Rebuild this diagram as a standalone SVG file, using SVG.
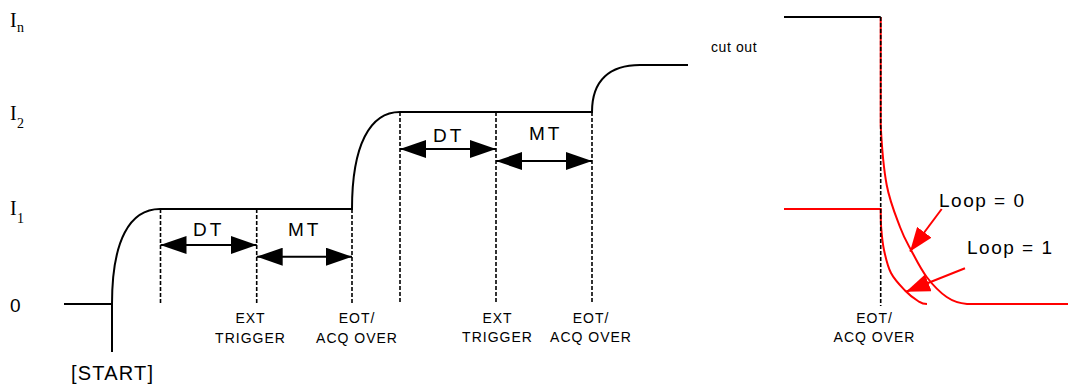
<svg xmlns="http://www.w3.org/2000/svg" width="1068" height="390" viewBox="0 0 1068 390">
<defs>
<style>
.ln{fill:none;stroke:#000;stroke-width:2}
.dash{fill:none;stroke:#000;stroke-width:1.6;stroke-dasharray:4 2}
.red{fill:none;stroke:#f00;stroke-width:2}
.arr{fill:none;stroke:#000;stroke-width:2;marker-start:url(#ah);marker-end:url(#ah)}
.rarr{fill:none;stroke:#f00;stroke-width:2;marker-end:url(#rh)}
text{font-family:"Liberation Sans",Arial,sans-serif;fill:#000}
.sm{font-size:14px;letter-spacing:1px;text-anchor:middle}
.md{font-size:19px;letter-spacing:3px}
.lp{font-size:19px;letter-spacing:1.5px}
.ser{font-family:"Liberation Serif","Times New Roman",serif;font-size:20px}
.sub{font-family:"Liberation Serif","Times New Roman",serif;font-size:14px}
</style>
<marker id="ah" viewBox="0 0 26 18" refX="26" refY="9" markerUnits="userSpaceOnUse" markerWidth="26" markerHeight="18" orient="auto-start-reverse"><path d="M0,0L26,9L0,18z" fill="#000"/></marker>
<marker id="rh" viewBox="0 0 24 18" refX="24" refY="9" markerUnits="userSpaceOnUse" markerWidth="24" markerHeight="18" orient="auto"><path d="M0,0L24,9L0,18z" fill="#f00"/></marker>
</defs>
<rect width="1068" height="390" fill="#fff"/>

<g id="axis-labels">
<text class="ser" x="10" y="27">I</text><text class="sub" x="17" y="32">n</text>
<text class="ser" x="10" y="120">I</text><text class="sub" x="17" y="128">2</text>
<text class="ser" x="10" y="215">I</text><text class="sub" x="17" y="222.5">1</text>
<text x="10" y="312" font-size="19">0</text>
<text x="71" y="380" font-size="20" letter-spacing="1.2">[START]</text>
</g>

<g id="waveform">
<path class="ln" d="M64,304 L112,304 M112,352 L112,304 C112,240 130,209 160,209 L352,209 C352,145 370,112 400,112 L592,112 C592,80 610,65 640,65 L688,65"/>
<text x="711" y="51.5" font-size="14" letter-spacing="0.6">cut out</text>
</g>

<g id="loop-curves">
<path class="ln" d="M784,17 L880.7,17"/>
<path class="red" d="M880.7,17 L880.7,125 C881.7,145 883.5,168 886.7,185 C889.9,202 895.95,216.2 900,227 C904.05,237.8 906.55,241.7 911,250 C915.45,258.3 920.75,269.2 926.7,277 C932.65,284.8 940,292.4 946.7,297 C953.4,301.6 958.1,303.25 967,304 L1068,304"/>
<path class="red" d="M784,209 L880.7,209 C880.8,215.3 880.65,221.2 881.2,228 C881.75,234.8 882.4,242.5 884,250 C885.6,257.5 887.5,266.25 891,273 C894.5,279.75 900.5,285.8 905,290.5 C909.5,295.2 914.3,298.7 918,301 C921.7,303.3 921.7,303.9 927,304"/>
</g>

<g id="connectors">
<path class="dash" d="M160.5,209 V305 M256.7,209 V305 M352,209 V305 M400,112 V302 M496,112 V302 M592,112 V302 M880.7,17 V306"/>
<line class="arr" x1="160.5" y1="245" x2="256.7" y2="245"/>
<line class="arr" x1="256.7" y1="256.7" x2="352" y2="256.7"/>
<line class="arr" x1="400" y1="149" x2="496" y2="149"/>
<line class="arr" x1="496" y1="161" x2="592" y2="161"/>
<line class="rarr" x1="941.7" y1="209" x2="910" y2="251.5"/>
<line class="rarr" x1="965" y1="268.3" x2="906" y2="291.7"/>
</g>

<g id="interval-labels">
<text class="md" x="193" y="236">DT</text>
<text class="md" x="288" y="236">MT</text>
<text class="md" x="433" y="142">DT</text>
<text class="md" x="529" y="140">MT</text>
<text class="lp" x="939" y="207">Loop = 0</text>
<text class="lp" x="967" y="254">Loop = 1</text>
</g>

<g id="event-labels">
<text class="sm" x="250.5" y="323">EXT</text>
<text class="sm" x="250.5" y="343">TRIGGER</text>
<text class="sm" x="357" y="323">EOT/</text>
<text class="sm" x="357" y="343">ACQ OVER</text>
<text class="sm" x="497.5" y="323">EXT</text>
<text class="sm" x="497.5" y="342">TRIGGER</text>
<text class="sm" x="591" y="323">EOT/</text>
<text class="sm" x="591" y="342">ACQ OVER</text>
<text class="sm" x="874.5" y="323">EOT/</text>
<text class="sm" x="874.5" y="342">ACQ OVER</text>
</g>
</svg>
